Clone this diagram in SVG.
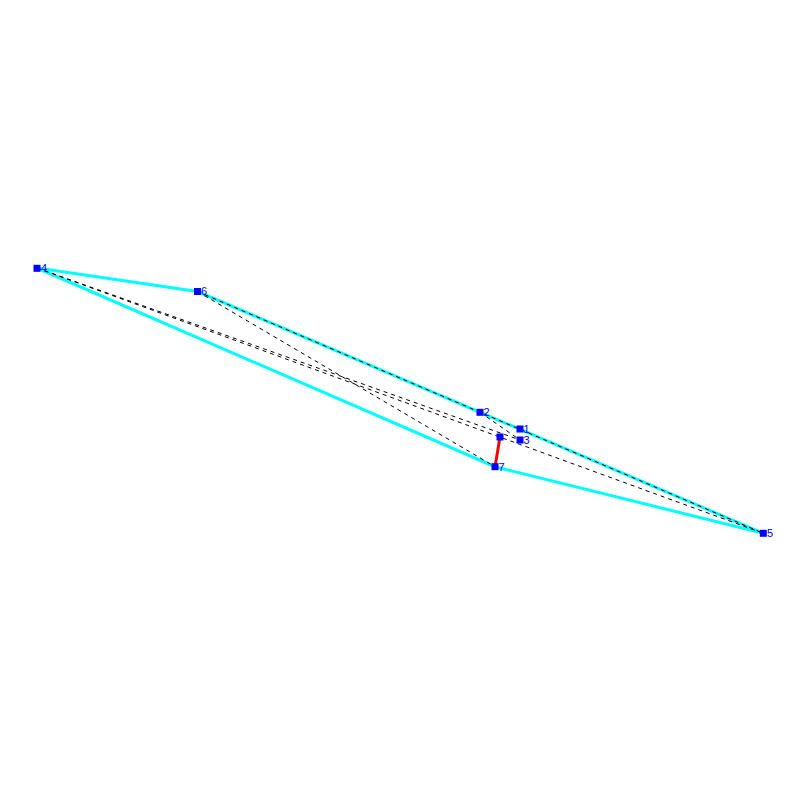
<svg xmlns="http://www.w3.org/2000/svg" width="800" height="800" viewBox="0 0 800 800">
<style>
.cy{stroke:#00ffff;stroke-width:3;fill:none}
.ds{stroke:#000;stroke-width:1;stroke-dasharray:4,4;fill:none}
.rd{stroke:#ff0000;stroke-width:3;fill:none}
.nd{fill:#0000ff}
.lb{fill:#0000ff;font-family:"Liberation Sans",Arial,sans-serif;font-size:11px}
</style>
<rect width="800" height="800" fill="#fff"/>
<g id="connectors">
<polygon class="cy" points="37,268 197.5,291.5 763.3,533.3 495,466.7"/>
<line class="ds" x1="37" y1="268" x2="763.3" y2="533.3"/>
<line class="ds" x1="37" y1="268" x2="520" y2="440"/>
<line class="ds" x1="197.5" y1="291.5" x2="495" y2="466.7"/>
<line class="ds" x1="197.5" y1="291.5" x2="763.3" y2="533.3"/>
<line class="ds" x1="480" y1="412.3" x2="520" y2="440"/>
<line class="rd" x1="500" y1="437" x2="495" y2="466.7"/>
</g>
<g id="n4"><rect class="nd" x="33.5" y="264.8" width="7" height="7"/><text class="lb" x="41" y="272">4</text></g>
<g id="n6"><rect class="nd" x="194" y="288" width="7" height="7"/><text class="lb" x="201" y="295">6</text></g>
<g id="n2"><rect class="nd" x="476.5" y="408.8" width="7" height="7"/><text class="lb" x="483.5" y="416">2</text></g>
<g id="n1"><rect class="nd" x="516.5" y="425.5" width="7" height="7"/><text class="lb" x="523.5" y="433">1</text></g>
<g id="n3"><rect class="nd" x="516.5" y="436.5" width="7" height="7"/><text class="lb" x="523.5" y="444">3</text></g>
<g id="n0"><rect class="nd" x="496.5" y="433.5" width="7" height="7"/></g>
<g id="n7"><rect class="nd" x="491.5" y="463.2" width="7" height="7"/><text class="lb" x="498.5" y="470.5">7</text></g>
<g id="n5"><rect class="nd" x="759.8" y="529.8" width="7" height="7"/><text class="lb" x="767" y="537">5</text></g>
</svg>
